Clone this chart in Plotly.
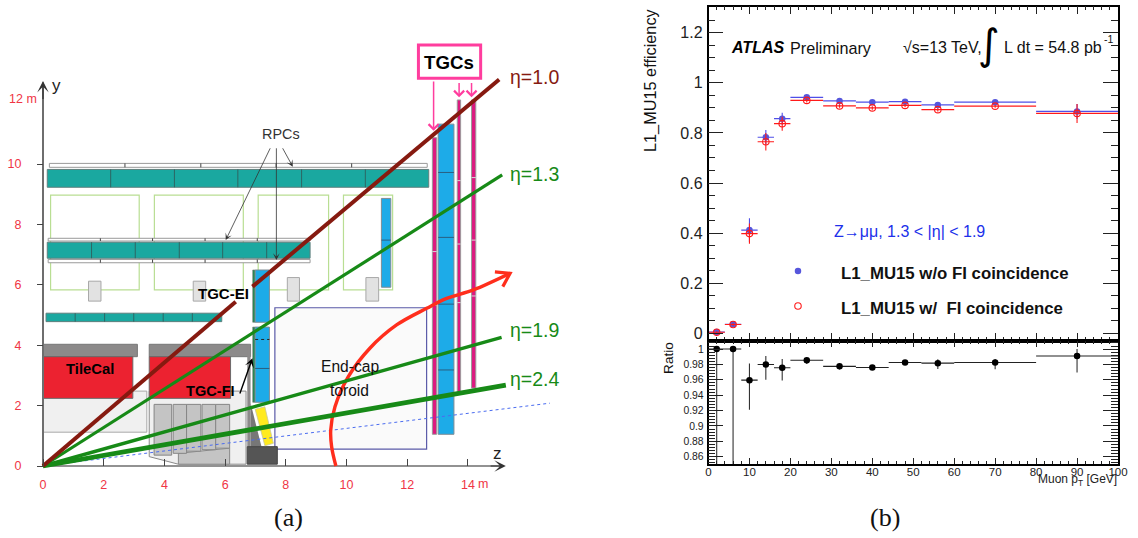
import plotly.graph_objects as go

# ---------- efficiency panel data (b) ----------
pt_centers = [2, 6, 10, 14, 18, 24, 32, 40, 48, 56, 70, 90]
pt_halfwidth = [2, 2, 2, 2, 2, 4, 4, 4, 4, 4, 10, 10]
eff_no_fi = [0.005, 0.036, 0.412, 0.783, 0.857, 0.942, 0.928, 0.923, 0.925, 0.912, 0.923, 0.886]
err_no_fi = [0.004, 0.006, 0.047, 0.029, 0.024, 0.008, 0.006, 0.006, 0.006, 0.007, 0.006, 0.030]
eff_fi = [0.004, 0.035, 0.398, 0.765, 0.837, 0.930, 0.908, 0.900, 0.910, 0.893, 0.907, 0.878]
err_fi = [0.004, 0.006, 0.040, 0.035, 0.028, 0.008, 0.007, 0.007, 0.007, 0.007, 0.006, 0.038]
ratio = [1.0, 1.0, 0.9596, 0.980, 0.9757, 0.9855, 0.9775, 0.976, 0.9826, 0.9817, 0.9826, 0.991]
ratio_up = [0.0, 0.0, 0.0215, 0.011, 0.0113, 0.003, 0.003, 0.002, 0.003, 0.005, 0.0045, 0.009]
ratio_dn = [0.16, 0.16, 0.0386, 0.020, 0.0167, 0.005, 0.004, 0.003, 0.003, 0.0077, 0.009, 0.0214]
eff_ticks = [0, 0.2, 0.4, 0.6, 0.8, 1, 1.2]
eff_tick_labels = ["0", "0.2", "0.4", "0.6", "0.8", "1", "1.2"]
ratio_ticks = [0.86, 0.88, 0.9, 0.92, 0.94, 0.96, 0.98, 1]
ratio_tick_labels = ["0.86", "0.88", "0.9", "0.92", "0.94", "0.96", "0.98", "1"]
pt_ticks = [0, 10, 20, 30, 40, 50, 60, 70, 80, 90, 100]

# ---------- detector layout data (a), in metres: z0, y0, z1, y1 ----------
rpc_thin = [[0.21, 9.89, 12.66, 10.02], [0.17, 7.45, 8.80, 7.54], [0.17, 6.73, 8.80, 6.84]]
rpc_thin_dividers = [[2.70, 9.89, 10.02], [5.20, 9.89, 10.02], [7.68, 9.89, 10.02], [10.17, 9.89, 10.02],
                     [1.89, 7.45, 7.54], [3.61, 7.45, 7.54], [5.34, 7.45, 7.54], [7.06, 7.45, 7.54],
                     [1.89, 6.73, 6.84], [3.61, 6.73, 6.84], [5.34, 6.73, 6.84], [7.06, 6.73, 6.84]]
mdt_barrel = [[0.14, 9.23, 12.71, 9.82], [0.14, 6.88, 8.80, 7.41], [0.10, 4.78, 5.89, 5.06]]
mdt_barrel_dividers = [[2.23, 9.23, 9.82], [4.33, 9.23, 9.82], [6.42, 9.23, 9.82], [8.52, 9.23, 9.82], [10.62, 9.23, 9.82],
                       [1.60, 6.88, 7.41], [3.04, 6.88, 7.41], [4.49, 6.88, 7.41], [5.92, 6.88, 7.41], [7.37, 6.88, 7.41],
                       [1.06, 4.78, 5.06], [2.03, 4.78, 5.06], [2.99, 4.78, 5.06], [3.96, 4.78, 5.06], [4.92, 4.78, 5.06]]
toroid_coils = [[0.25, 5.83, 3.17, 8.97], [3.67, 5.83, 6.60, 8.97], [7.09, 5.83, 9.41, 8.97], [9.90, 5.83, 11.52, 8.97]]
support_blocks = [[1.50, 5.46, 1.91, 6.12], [4.95, 5.46, 5.36, 6.12], [8.05, 5.46, 8.45, 6.24], [10.64, 5.46, 11.06, 6.24]]
endcap_toroid = [7.64, 0.56, 12.64, 5.24]
blue_chambers = [[11.15, 5.92, 11.46, 8.86], [13.02, 1.05, 13.54, 11.32], [6.99, 4.76, 7.46, 6.49], [6.99, 2.11, 7.46, 4.60]]
blue_dividers = [[11.15, 11.46, 7.48], [13.02, 13.54, 9.72], [13.02, 13.54, 7.57], [13.02, 13.54, 5.36], [13.02, 13.54, 3.18], [6.99, 7.46, 3.23]]
tgc_strips = [[12.83, 1.05, 12.97, 10.87], [13.65, 2.46, 13.76, 12.12], [14.12, 2.58, 14.26, 12.12]]
tgc_dividers = [[12.83, 12.97, 7.10], [12.83, 12.97, 5.33], [13.65, 13.76, 9.45], [13.65, 13.76, 7.35],
                [13.65, 13.76, 5.41], [14.12, 14.26, 9.55], [14.12, 14.26, 7.48], [14.12, 14.26, 5.63]]
tgc_inner = [[6.91, 4.76, 6.99, 6.49], [6.91, 2.11, 6.99, 4.60]]
calo_caps = [[0.01, 3.62, 3.11, 4.03], [3.50, 3.62, 6.84, 4.03]]
calo_red = [[0.01, 2.24, 2.96, 3.62], [3.50, 2.24, 6.18, 3.62]]
calo_pale = [[0.01, 1.12, 3.42, 2.48]]
calo_pale_poly_z = [3.50, 6.69, 6.69, 4.46, 3.50]
calo_pale_poly_y = [2.48, 2.48, 0.06, 0.06, 0.31]
forward_blocks = [[3.66, 0.36, 4.24, 2.04], [4.29, 0.42, 4.73, 2.04], [4.73, 0.49, 5.20, 2.04],
                  [5.24, 0.54, 5.69, 2.04], [5.69, 0.59, 6.15, 2.04]]
forward_poly_z = [4.46, 4.46, 6.15, 6.15]
forward_poly_y = [0.06, 0.42, 0.59, 0.06]
shield_wall = [6.73, 0.64, 6.84, 4.03]
shield_foot = [6.73, 0.06, 7.72, 0.64]
shield_poly_z = [6.84, 7.20, 6.84]
shield_poly_y = [2.08, 0.64, 0.64]
yellow_poly_z = [6.99, 7.31, 7.59, 7.31]
yellow_poly_y = [1.88, 1.96, 0.75, 0.67]
tgc_box = [12.37, 12.84, 14.42, 13.94]

eta10_a_z, eta10_a_y = [0, 6.35], [0, 5.44]
eta10_b_z, eta10_b_y = [6.90, 15.03], [5.94, 12.80]
eta13_z, eta13_y = [0, 15.13], [0, 9.64]
eta19_z, eta19_y = [0, 15.11], [0, 4.26]
eta24_z, eta24_y = [0, 15.25], [0, 2.68]
beam_z, beam_y = [0, 16.70], [0, 2.08]
curve_z = [9.65, 9.51, 9.48, 9.62, 10.06, 10.77, 11.65, 12.64, 13.30, 14.18, 15.39]
curve_y = [0.00, 0.64, 1.19, 1.96, 2.96, 3.90, 4.67, 5.22, 5.55, 5.83, 6.38]
head_z = [14.89, 15.39, 15.15]
head_y = [6.43, 6.38, 5.94]
z_ticks = [0, 2, 4, 6, 8, 10, 12, 14]
y_ticks = [0, 2, 4, 6, 8, 10]

W, H = 1138, 538
SANS = "Liberation Sans"
shapes, annotations = [], []


def box(r, fill, line="rgba(0,0,0,0)", width=1):
    shapes.append(dict(type="rect", xref="x", yref="y", x0=r[0], y0=r[1], x1=r[2], y1=r[3],
                       fillcolor=fill, line=dict(color=line, width=width), layer="below"))


def poly(zs, ys, fill, line="rgba(0,0,0,0)", width=1):
    path = "M" + " L".join(f"{a},{b}" for a, b in zip(zs, ys)) + " Z"
    shapes.append(dict(type="path", xref="x", yref="y", path=path, fillcolor=fill,
                       line=dict(color=line, width=width), layer="below"))


def vline(z, y0, y1, color, width=1):
    shapes.append(dict(type="line", xref="x", yref="y", x0=z, x1=z, y0=y0, y1=y1,
                       line=dict(color=color, width=width), layer="below"))


def hline(z0, z1, y, color, width=1, dash=None):
    shapes.append(dict(type="line", xref="x", yref="y", x0=z0, x1=z1, y0=y, y1=y,
                       line=dict(color=color, width=width, dash=dash or "solid"), layer="below"))


def label(x, y, text, size, color="#111", bold=False, xa="center", ya="middle", angle=0, family=SANS):
    # x, y given in page pixels, measured from the top-left corner
    annotations.append(dict(xref="paper", yref="paper", x=x / W, y=1 - y / H, text=f"<b>{text}</b>" if bold else text,
                            showarrow=False, xanchor=xa, yanchor=ya, textangle=angle, borderpad=0,
                            font=dict(family=family, size=size, color=color)))


def arrow(z0, y0, z1, y1, color, width, head=3, size=1.0):
    annotations.append(dict(xref="x", yref="y", axref="x", ayref="y", x=z1, y=y1, ax=z0, ay=y0, text="",
                            showarrow=True, arrowcolor=color, arrowwidth=width, arrowhead=head, arrowsize=size))


# --- diagram background pieces, back to front ---
for r in toroid_coils:
    box(r, "rgba(0,0,0,0)", "#b9de93", 1.2)
box(endcap_toroid, "#fafafa", "#5a5aa8", 1.2)
for r in rpc_thin:
    box(r, "#ffffff", "#9a9a9a", 1)
for d in rpc_thin_dividers:
    vline(d[0], d[1], d[2], "#444", 1)
for r in mdt_barrel:
    box(r, "#1aa8a0", "#5f7f7d", 1)
for d in mdt_barrel_dividers:
    vline(d[0], d[1], d[2], "#2d6663", 1)
for r in support_blocks:
    box(r, "#e2e2e2", "#a8a8a8", 1)
for r in calo_pale:
    box(r, "#f0f0f0", "#a8a8a8", 1)
poly(calo_pale_poly_z, calo_pale_poly_y, "#f0f0f0", "#8a8a8a", 1)
for r in calo_caps:
    box(r, "#8c8a8a", "#777", 1)
for r in calo_red:
    box(r, "#ec2230", "#6a6a6a", 1)
poly(forward_poly_z, forward_poly_y, "#c4c4c4", "#888", 1)
for r in forward_blocks:
    box(r, "#c4c4c4", "#868686", 1)
box(shield_wall, "#8c8a8a")
poly(shield_poly_z, shield_poly_y, "#777777")
box(shield_foot, "#555555", "#444", 1)
poly(yellow_poly_z, yellow_poly_y, "#ffea1f", "#c8c8a0", 0.8)
for r in tgc_inner:
    box(r, "#1f8a4e", "#777", 0.6)
for r in blue_chambers:
    box(r, "#1dabe8", "#7f8c94", 1)
for d in blue_dividers:
    hline(d[0], d[1], d[2], "#2a5f80", 1)
hline(6.99, 7.46, 4.19, "#222", 1, "dot")
for r in tgc_strips:
    box(r, "#dc1a80", "#9a9a9a", 1)
for d in tgc_dividers:
    hline(d[0], d[1], d[2], "#d8d8d8", 1)
shapes.append(dict(type="rect", xref="x", yref="y", x0=tgc_box[0], y0=tgc_box[1], x1=tgc_box[2], y1=tgc_box[3],
                   fillcolor="#ffffff", line=dict(color="#ff3d9e", width=3), layer="below"))

fig = go.Figure()

# --- axes lines of the diagram, lines and curve ---
AXIS_GRAY = "#6e6e6e"
fig.add_trace(go.Scatter(x=[0, 15.1], y=[0, 0], mode="lines", line=dict(color=AXIS_GRAY, width=1.6), cliponaxis=False, hoverinfo="skip"))
fig.add_trace(go.Scatter(x=[0, 0], y=[0, 12.7], mode="lines", line=dict(color=AXIS_GRAY, width=2), cliponaxis=False, hoverinfo="skip"))
fig.add_trace(go.Scatter(x=beam_z, y=beam_y, mode="lines", line=dict(color="#4a6cf0", width=1, dash="dot"), hoverinfo="skip"))
fig.add_trace(go.Scatter(x=curve_z, y=curve_y, mode="lines", line=dict(color="#ff2e1c", width=3.4, shape="spline"), hoverinfo="skip"))
fig.add_trace(go.Scatter(x=head_z, y=head_y, mode="lines", line=dict(color="#ff2e1c", width=3.2), hoverinfo="skip"))
fig.add_trace(go.Scatter(x=eta19_z, y=eta19_y, mode="lines", line=dict(color="#178a17", width=3.4), hoverinfo="skip"))
fig.add_trace(go.Scatter(x=eta24_z, y=eta24_y, mode="lines", line=dict(color="#178a17", width=4.8), hoverinfo="skip"))
fig.add_trace(go.Scatter(x=eta13_z, y=eta13_y, mode="lines", line=dict(color="#178a17", width=3.2), hoverinfo="skip"))
fig.add_trace(go.Scatter(x=eta10_a_z, y=eta10_a_y, mode="lines", line=dict(color="#861a10", width=4), hoverinfo="skip"))
fig.add_trace(go.Scatter(x=eta10_b_z, y=eta10_b_y, mode="lines", line=dict(color="#861a10", width=4), hoverinfo="skip"))

# --- efficiency panel ---
BLUE_M, BLUE_L = "#5656dc", "#4f4fe8"
RED = "#ff1a1a"
fig.add_trace(go.Scatter(x=pt_centers, y=eff_no_fi, mode="markers", xaxis="x2", yaxis="y2",
                         marker=dict(color=BLUE_M, size=6.5, line=dict(width=0)),
                         error_x=dict(type="data", array=pt_halfwidth, color=BLUE_L, thickness=1.1, width=0),
                         error_y=dict(type="data", array=err_no_fi, color=BLUE_L, thickness=1.1, width=0)))
fig.add_trace(go.Scatter(x=pt_centers, y=eff_fi, mode="markers", xaxis="x2", yaxis="y2",
                         marker=dict(color=RED, size=6.5, symbol="circle-open", line=dict(color=RED, width=1.1)),
                         error_x=dict(type="data", array=pt_halfwidth, color=RED, thickness=1.1, width=0),
                         error_y=dict(type="data", array=err_fi, color=RED, thickness=1.1, width=0)))
fig.add_trace(go.Scatter(x=[21.85], y=[0.249], mode="markers", xaxis="x2", yaxis="y2",
                         marker=dict(color=BLUE_M, size=6.5)))
fig.add_trace(go.Scatter(x=[21.85], y=[0.109], mode="markers", xaxis="x2", yaxis="y2",
                         marker=dict(color=RED, size=6.5, symbol="circle-open", line=dict(color=RED, width=1.1))))

# --- ratio panel ---
fig.add_trace(go.Scatter(x=pt_centers, y=ratio, mode="markers", xaxis="x3", yaxis="y3",
                         marker=dict(color="#000", size=6.5),
                         error_x=dict(type="data", array=pt_halfwidth, color="#222", thickness=1.1, width=0),
                         error_y=dict(type="data", symmetric=False, array=ratio_up, arrayminus=ratio_dn,
                                      color="#333", thickness=1.1, width=0)))

# --- diagram arrows ---
arrow(7.51, 10.57, 6.02, 7.48, "#333", 0.8, 3, 1.4)
arrow(7.69, 10.57, 7.69, 6.82, "#333", 0.8, 3, 1.4)
arrow(7.87, 10.57, 8.23, 9.91, "#333", 0.8, 3, 1.4)
arrow(6.47, 2.35, 6.90, 3.57, "#000", 1.4, 3, 1.1)
arrow(12.87, 12.78, 12.87, 11.10, "#ff3d9e", 1.5, 4, 1.3)
arrow(13.71, 12.73, 13.71, 12.21, "#ff3d9e", 1.5, 4, 1.3)
arrow(14.12, 12.73, 14.12, 12.21, "#ff3d9e", 1.5, 4, 1.3)
arrow(14.7, 0, 15.25, 0, "#333", 1.2, 3, 1.6)
arrow(0, 12.1, 0, 12.75, "#333", 1.2, 3, 1.6)

# --- diagram text ---
RED_T = "#f03545"
label(38, 98.5, "12 m", 12.5, RED_T, xa="right")
label(477, 484, "m", 12.5, RED_T, xa="left")
label(56.5, 86, "y", 17, "#222")
label(497, 453, "z", 17, "#222")
label(281, 134, "RPCs", 14.4, "#333")
label(90, 368.5, "TileCal", 14.8, "#000", bold=True)
label(223.3, 293.5, "TGC-EI", 15, "#000", bold=True)
label(210, 391, "TGC-FI", 14.6, "#000", bold=True)
label(449, 62, "TGCs", 18.7, "#000", bold=True)
label(349.5, 366.5, "End-cap", 15.6, "#111")
label(349.5, 390.5, "toroid", 15.6, "#111")
label(509, 77, "η=1.0", 19.5, "#861a10", xa="left")
label(509, 174, "η=1.3", 19.5, "#178a17", xa="left")
label(509, 330, "η=1.9", 19.5, "#178a17", xa="left")
label(509, 379, "η=2.4", 19.5, "#178a17", xa="left")
label(288, 517, "(a)", 26, "#111", family="Liberation Serif")
label(885, 517, "(b)", 26, "#111", family="Liberation Serif")

# --- efficiency panel text ---
label(730, 48, "<i>ATLAS</i>", 16, "#000", bold=True, xa="left")
label(789, 48, "Preliminary", 16.2, "#111", xa="left")
label(902, 48, "√s=13 TeV,", 16, "#111", xa="left")
label(989, 44, "∫", 42, "#000", family="DejaVu Sans")
label(1003, 48, "L dt = 54.8 pb", 16, "#111", xa="left")
label(1103, 39, "-1", 10.5, "#111", xa="left")
label(833, 231, "Z→μμ, 1.3 &lt; |η| &lt; 1.9", 16, "#2030ea", xa="left")
label(840, 273.5, "L1_MU15 w/o FI coincidence", 16.8, "#111", bold=True, xa="left")
label(840, 308, "L1_MU15 w/  FI coincidence", 16.8, "#111", bold=True, xa="left")
label(650, 7, "L1_MU15 efficiency", 16.3, "#111", ya="top", angle=-90)
label(668, 341, "Ratio", 13.7, "#111", ya="top", angle=-90)
label(1118, 480, "Muon p<sub>T</sub> [GeV]", 12, "#222", xa="right")

GRAY_T = "#222"
layout = dict(
    width=W, height=H, margin=dict(l=0, r=0, t=0, b=0, pad=0, autoexpand=False), paper_bgcolor="white", plot_bgcolor="rgba(0,0,0,0)",
    showlegend=False, shapes=shapes, annotations=annotations, font=dict(family=SANS),
    # diagram, in metres; the page scale is 30.35 px/m by 30.2 px/m
    xaxis=dict(domain=[0, 620 / W], range=[-43 / 30.35, 577 / 30.35], anchor="free", position=72 / H,
               showgrid=False, zeroline=False, showline=False, ticks="inside", ticklen=7, tickwidth=1,
               tickcolor="#444", tickvals=z_ticks, ticktext=[str(v) for v in z_ticks],
               ticklabelstandoff=9, tickfont=dict(size=12.5, color=RED_T)),
    yaxis=dict(domain=[0, 1], range=[-72 / 30.2, 466 / 30.2], anchor="free", position=43 / W,
               showgrid=False, zeroline=False, showline=False, ticks="outside", ticklen=6, tickwidth=1,
               tickcolor="#444", tickvals=y_ticks, ticktext=[str(v) for v in y_ticks],
               ticklabelstandoff=13, tickfont=dict(size=12.5, color=RED_T)),
    # efficiency
    xaxis2=dict(domain=[708.5 / W, 1118 / W], range=[0, 100], anchor="y2", showgrid=False, zeroline=False,
                showline=True, linecolor="#000", linewidth=1.5, mirror="ticks", ticks="inside", ticklen=8, tickwidth=1,
                tickcolor="#222", tickvals=pt_ticks, showticklabels=False,
                minor=dict(ticks="inside", ticklen=4, dtick=2, tickcolor="#222", tickwidth=1)),
    yaxis2=dict(domain=[197 / H, 531.3 / H], range=[-0.0307, 1.304], anchor="x2", showgrid=False, zeroline=False,
                showline=True, linecolor="#000", linewidth=1.5, mirror="ticks", ticks="inside", ticklen=15, tickwidth=1,
                tickcolor="#222", tickvals=eff_ticks, ticktext=eff_tick_labels,
                tickfont=dict(size=16, color=GRAY_T), ticklabelstandoff=1,
                minor=dict(ticks="inside", ticklen=7, dtick=0.05, tickcolor="#222", tickwidth=1)),
    # ratio
    xaxis3=dict(domain=[708.5 / W, 1118 / W], range=[0, 100], anchor="y3", showgrid=False, zeroline=False,
                showline=True, linecolor="#000", linewidth=1.5, mirror="ticks", ticks="inside", ticklen=6, tickwidth=1,
                tickcolor="#222", tickvals=pt_ticks, ticktext=[str(v) for v in pt_ticks],
                tickfont=dict(size=11.5, color=GRAY_T), ticklabelstandoff=-4,
                minor=dict(ticks="inside", ticklen=3, dtick=2, tickcolor="#222", tickwidth=1)),
    yaxis3=dict(domain=[74 / H, 197 / H], range=[0.8505, 1.0105], anchor="x3", showgrid=False, zeroline=False,
                showline=True, linecolor="#000", linewidth=1.5, mirror="ticks", ticks="inside", ticklen=15, tickwidth=1,
                tickcolor="#222", tickvals=ratio_ticks, ticktext=ratio_tick_labels,
                tickfont=dict(size=10.4, color=GRAY_T), ticklabelstandoff=1,
                minor=dict(ticks="inside", ticklen=7, dtick=0.004, tickcolor="#222", tickwidth=1)),
)
fig.update_layout(**layout)
fig.write_html("out.html", config=dict(displayModeBar=False),
               post_script="document.body.style.margin='0';document.documentElement.style.overflow='hidden';document.body.style.overflow='hidden';")
